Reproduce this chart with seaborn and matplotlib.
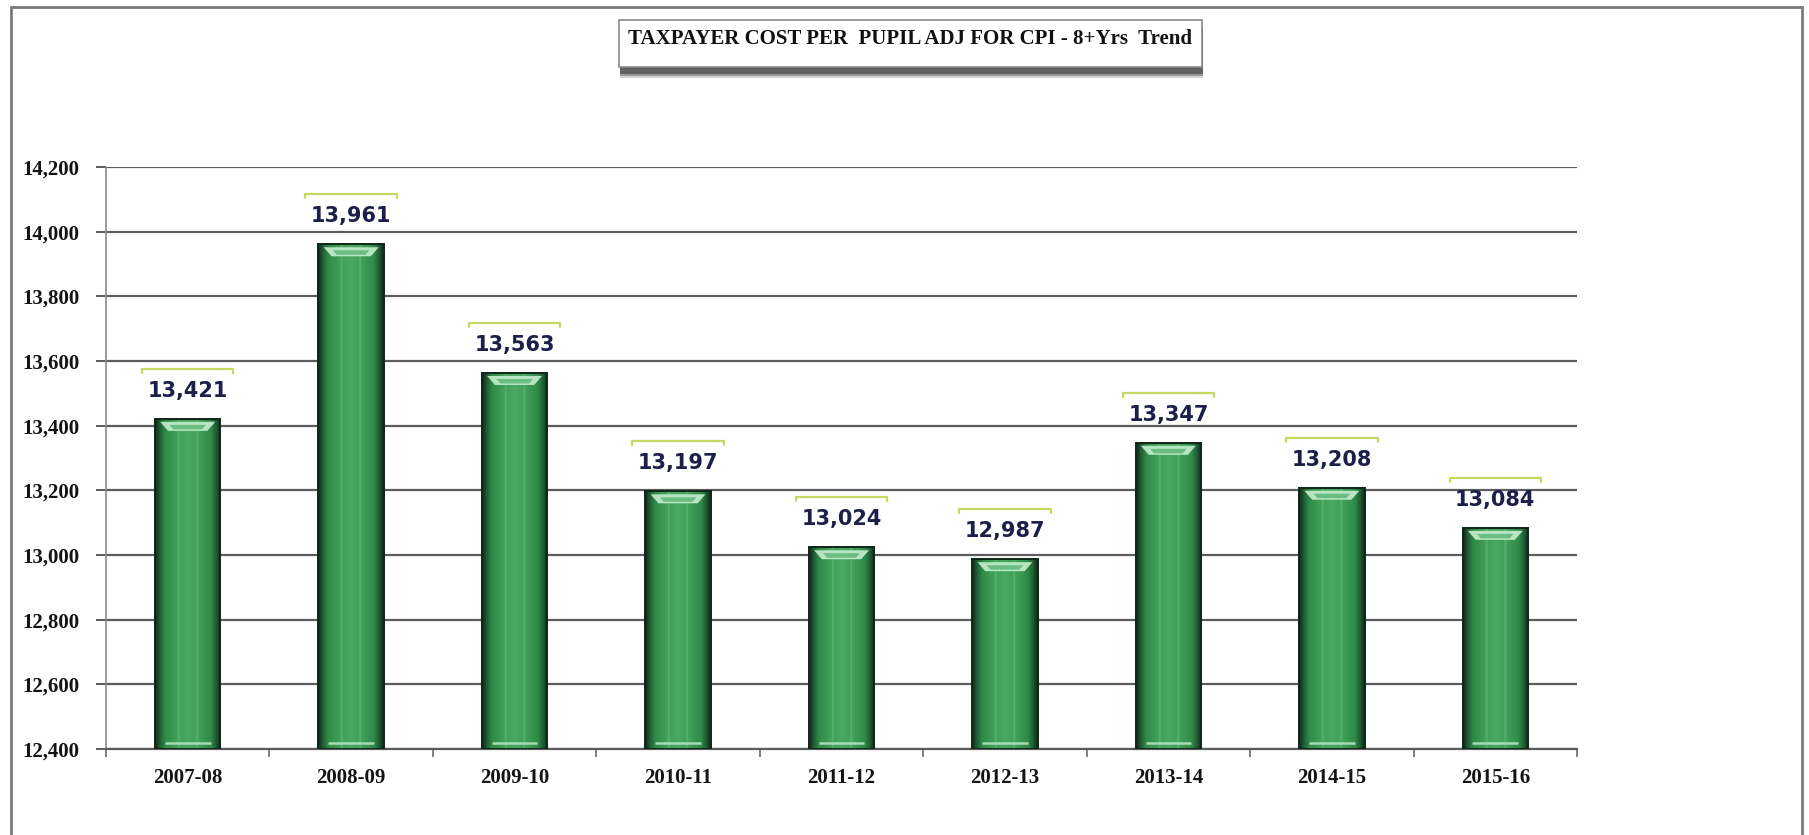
import numpy as np
import pandas as pd
import matplotlib
matplotlib.use("Agg")
import matplotlib.pyplot as plt
import seaborn as sns
from matplotlib.patches import Rectangle, Polygon
from matplotlib.ticker import FuncFormatter, FixedLocator

# ---- data -------------------------------------------------------------
school_years = ["2007-08", "2008-09", "2009-10", "2010-11", "2011-12",
                "2012-13", "2013-14", "2014-15", "2015-16"]
cost_per_pupil = [13421, 13961, 13563, 13197, 13024, 12987, 13347, 13208, 13084]
y_ticks = [12400, 12600, 12800, 13000, 13200, 13400, 13600, 13800, 14000, 14200]
chart_title = "TAXPAYER COST PER  PUPIL ADJ FOR CPI - 8+Yrs  Trend"

# ---- figure -----------------------------------------------------------
W, H, DPI = 1809, 835, 100
sns.set_theme(style="white")
plt.rcParams["font.family"] = ["DejaVu Sans"]

fig = plt.figure(figsize=(W / DPI, H / DPI), dpi=DPI)
fig.patch.set_facecolor("white")
ax_left, ax_right, ax_top, ax_bottom = 106, 1577, 167, 749
ax = fig.add_axes([ax_left / W, 1 - ax_bottom / H,
                   (ax_right - ax_left) / W, (ax_bottom - ax_top) / H])

df = pd.DataFrame({"year": school_years, "cost": cost_per_pupil})
sns.barplot(data=df, x="year", y="cost", color="#3c9a52", saturation=1,
            width=0.40, edgecolor="#14301c", linewidth=1.2, ax=ax, zorder=2)

ymin, ymax = y_ticks[0], y_ticks[-1]
ax.set_ylim(ymin, ymax)
ax.set_xlim(-0.5, len(school_years) - 0.5)
units_per_px = (ymax - ymin) / (ax_bottom - ax_top)

# ---- cylinder-style shading on each bar --------------------------------
stops = [(0.00, "#0e2414"), (0.06, "#1d5430"), (0.15, "#2f8a47"),
         (0.34, "#41a159"), (0.36, "#5cb772"), (0.38, "#41a159"),
         (0.50, "#48aa60"), (0.62, "#41a159"), (0.64, "#5cb772"),
         (0.66, "#41a159"), (0.85, "#2f8a47"), (0.94, "#1d5430"),
         (1.00, "#0e2414")]
xs = np.linspace(0, 1, 256)
pos = [s[0] for s in stops]
rgb = np.array([matplotlib.colors.to_rgb(s[1]) for s in stops])
shade = np.stack([np.interp(xs, pos, rgb[:, k]) for k in range(3)], axis=-1)[None, :, :]

bars = [p for p in ax.patches if isinstance(p, Rectangle)]
for p, val in zip(bars, cost_per_pupil):
    x0, w = p.get_x(), p.get_width()
    im = ax.imshow(shade, extent=[x0, x0 + w, ymin, val], aspect="auto",
                   interpolation="bilinear", zorder=3)
    im.set_clip_path(p)
    # light bevel at the top of the bar
    t1 = val - 3 * units_per_px
    t2 = val - 12 * units_per_px
    ax.add_patch(Polygon([[x0 + 0.08 * w, t1], [x0 + 0.92 * w, t1],
                          [x0 + 0.80 * w, t2], [x0 + 0.20 * w, t2]],
                         closed=True, facecolor="#bfe9c8", edgecolor="none",
                         alpha=0.95, zorder=4))
    ax.add_patch(Polygon([[x0 + 0.22 * w, t1 - 3 * units_per_px],
                          [x0 + 0.78 * w, t1 - 3 * units_per_px],
                          [x0 + 0.72 * w, t2 + 1.5 * units_per_px],
                          [x0 + 0.28 * w, t2 + 1.5 * units_per_px]],
                         closed=True, facecolor="#6cbd82", edgecolor="none",
                         zorder=4))
    # faint light line near the base
    yb = ymin + 6 * units_per_px
    ax.plot([x0 + 0.15 * w, x0 + 0.85 * w], [yb, yb], color="#a6dab2",
            lw=1.8, zorder=4, solid_capstyle="butt")
    # edge outline on top of the shading
    ax.add_patch(Rectangle((x0, ymin), w, val - ymin, fill=False,
                           edgecolor="#10281a", lw=1.4, zorder=5))

# ---- value labels with thin bracket above --------------------------------
for i, val in enumerate(cost_per_pupil):
    ax.text(i, val + 28 * units_per_px, f"{val:,}", ha="center", va="center",
            fontsize=15, fontweight="bold", color="#1c1f4a", zorder=6,
            family=["DejaVu Sans"])
    by = val + 50 * units_per_px
    half = 0.28
    tick = 4 * units_per_px
    ax.plot([i - half, i - half, i + half, i + half],
            [by - tick, by, by, by - tick], color="#c6d860", lw=1.6,
            zorder=6, clip_on=False)

# ---- axes styling -------------------------------------------------------
ax.set_yticks(y_ticks)
ax.yaxis.set_major_formatter(FuncFormatter(lambda v, _: f"{int(v):,}"))
ax.set_axisbelow(True)
ax.yaxis.grid(True, color="#5c5c5c", lw=1.6)
ax.xaxis.grid(False)
ax.set_xlabel("")
ax.set_ylabel("")
for side in ("top", "right"):
    ax.spines[side].set_visible(False)
ax.spines["left"].set_color("#8a8a8a")
ax.spines["left"].set_linewidth(1.2)
ax.spines["bottom"].set_color("#5c5c5c")
ax.spines["bottom"].set_linewidth(1.6)

ax.tick_params(axis="y", which="major", length=7, width=1.4, color="#5c5c5c",
               pad=12, labelsize=15, labelcolor="#141414", left=True)
ax.tick_params(axis="x", which="major", length=0, pad=14, labelsize=15,
               labelcolor="#141414", bottom=True)
ax.xaxis.set_minor_locator(FixedLocator(np.arange(-0.5, len(school_years), 1.0)))
ax.tick_params(axis="x", which="minor", length=6, width=1.2, color="#6a6a6a",
               bottom=True)
for lbl in ax.get_yticklabels() + ax.get_xticklabels():
    lbl.set_fontfamily(["Liberation Serif"])
    lbl.set_fontweight("bold")

# ---- outer frame and title box ------------------------------------------
fig.patches.append(Rectangle((11 / W, -0.05), (1802 - 11) / W, 1.05 - 7 / H,
                             transform=fig.transFigure, fill=False,
                             edgecolor="#7a7a7a", lw=2, zorder=0))
bx0, bx1, by0, by1 = 619, 1202, 20, 67
# soft drop shadow under the title box
for off, alpha in [(11, 0.25), (9, 0.45), (7, 0.8)]:
    fig.patches.append(Rectangle((bx0 / W + 1 / W, 1 - (by1 + off) / H),
                                 (bx1 - bx0) / W, (by1 - by0) / H,
                                 transform=fig.transFigure, facecolor="#555555",
                                 edgecolor="none", alpha=alpha, zorder=1))
fig.patches.append(Rectangle((bx0 / W, 1 - by1 / H),
                             (bx1 - bx0) / W, (by1 - by0) / H,
                             transform=fig.transFigure, facecolor="white",
                             edgecolor="#8a8a8a", lw=1.2, zorder=2))
fig.text((bx0 + bx1) / 2 / W, 1 - 39 / H, chart_title, ha="center", va="center",
         fontsize=15, fontweight="bold", color="#111111",
         family=["Liberation Serif"], zorder=3)

fig.savefig("out.png", dpi=DPI, facecolor="white")
